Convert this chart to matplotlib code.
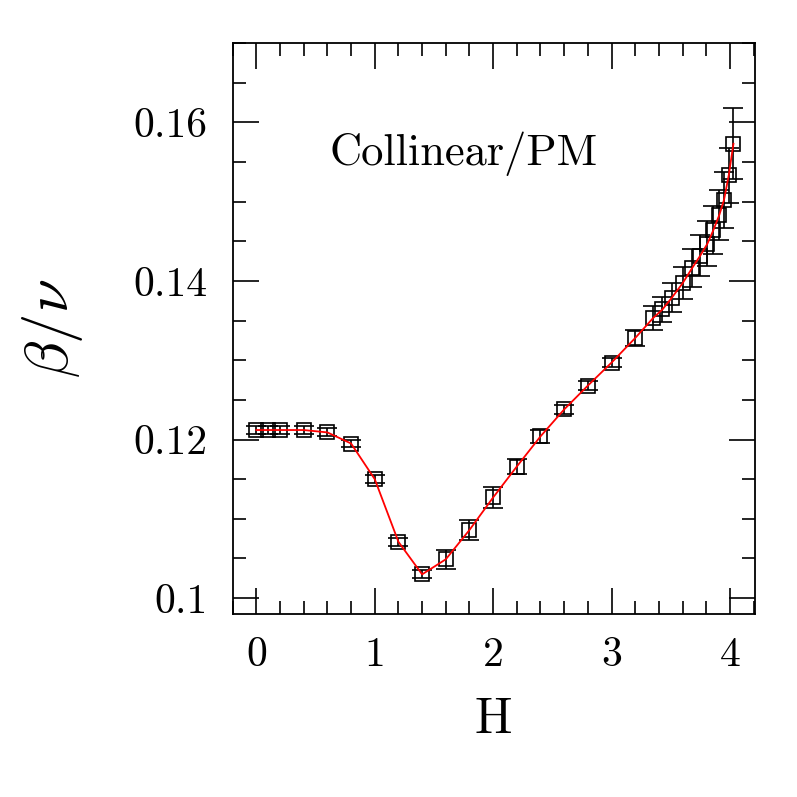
import matplotlib
matplotlib.use("Agg")
import matplotlib.pyplot as plt
from matplotlib.ticker import MultipleLocator, FixedLocator, FixedFormatter

plt.rcParams['mathtext.fontset'] = 'cm'
plt.rcParams['font.family'] = ['cmr10', 'DejaVu Serif']
plt.rcParams['axes.formatter.use_mathtext'] = True

# data
H = [0.0, 0.1, 0.2, 0.4, 0.6, 0.8, 1.0, 1.2, 1.4, 1.6, 1.8, 2.0,
     2.2, 2.4, 2.6, 2.8, 3.0, 3.2, 3.35, 3.43, 3.51, 3.6, 3.68, 3.75,
     3.81, 3.86, 3.91, 3.95, 3.99, 4.03]
beta_nu = [0.1212, 0.1212, 0.1212, 0.1212, 0.1209, 0.1195, 0.1150, 0.1071,
           0.1030, 0.1049, 0.1086, 0.1127, 0.1166, 0.1204, 0.1238, 0.1268,
           0.1297, 0.1328, 0.1353, 0.1364, 0.1379, 0.1397, 0.1416, 0.1432,
           0.1447, 0.1464, 0.1483, 0.1502, 0.1533, 0.1573]
err = [0.0005, 0.0005, 0.0005, 0.0005, 0.0005, 0.0005, 0.0005, 0.0005,
       0.0005, 0.0012, 0.0013, 0.0013, 0.0010, 0.0008, 0.0006, 0.0006,
       0.0006, 0.0010, 0.0015, 0.0016, 0.0018, 0.0020, 0.0024, 0.0026,
       0.0028, 0.0030, 0.0032, 0.0035, 0.0035, 0.0045]

x_ticks = [0, 1, 2, 3, 4]
x_labels = ['0', '1', '2', '3', '4']
y_ticks = [0.10, 0.12, 0.14, 0.16]
y_labels = ['0.1', '0.12', '0.14', '0.16']

fig = plt.figure(figsize=(7.97, 7.97), dpi=100)
ax = fig.add_axes([0.292, 0.2296, 0.655, 0.7164])

ax.errorbar(H, beta_nu, yerr=err, fmt='none', ecolor='black', elinewidth=1.2,
            capsize=7, capthick=1.2, zorder=2)
ax.plot(H, beta_nu, 's', mfc='none', mec='black', ms=9.5, mew=1.2, zorder=3)
ax.plot(H, beta_nu, '-', color='red', lw=1.3, zorder=4)

ax.set_xlim(-0.2, 4.21)
ax.set_ylim(0.098, 0.17)

ax.xaxis.set_major_locator(FixedLocator(x_ticks))
ax.xaxis.set_major_formatter(FixedFormatter(x_labels))
ax.xaxis.set_minor_locator(MultipleLocator(0.2))
ax.yaxis.set_major_locator(FixedLocator(y_ticks))
ax.yaxis.set_major_formatter(FixedFormatter(y_labels))
ax.yaxis.set_minor_locator(MultipleLocator(0.005))

ax.tick_params(which='both', direction='in', top=True, right=True, width=1.2)
ax.tick_params(which='major', length=19, labelsize=30)
ax.tick_params(axis='x', which='major', pad=16)
ax.tick_params(axis='y', which='major', pad=18)
ax.tick_params(which='minor', length=9.5)
for s in ax.spines.values():
    s.set_linewidth(1.3)

ax.set_xlabel('H', fontsize=36)
ax.xaxis.set_label_coords(0.5, -0.145)
ax.set_ylabel(r'$\beta/\nu$', fontsize=44)
ax.yaxis.set_label_coords(-0.283, 0.5)
ax.text(0.62, 0.1546, 'Collinear/PM', fontsize=32, va='baseline')

fig.savefig('out.png', dpi=100)
